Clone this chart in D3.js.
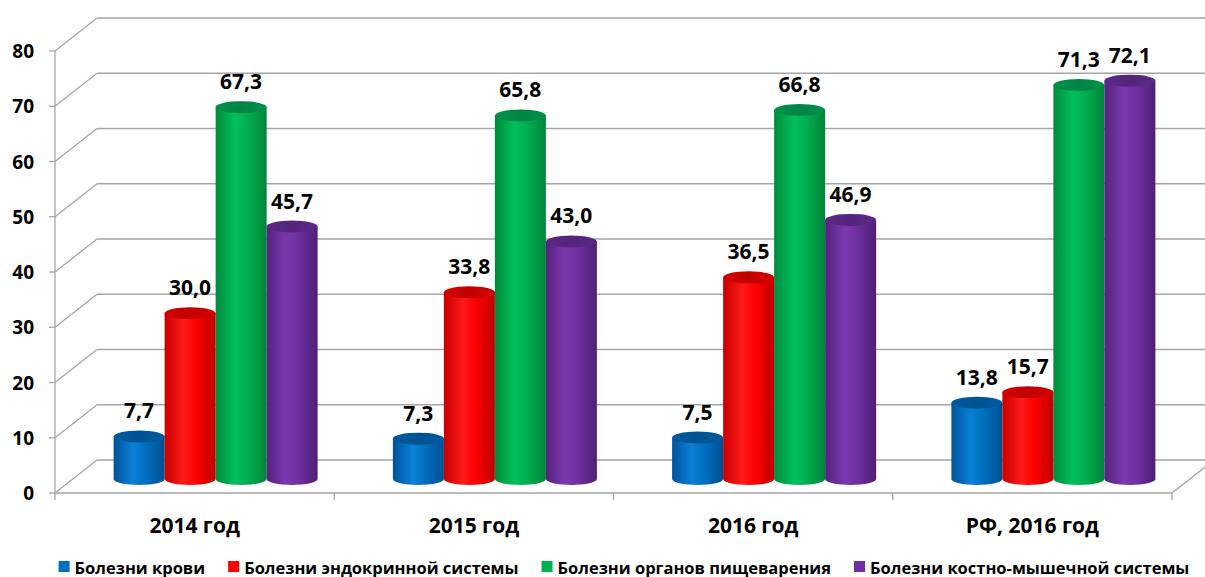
<!DOCTYPE html>
<html>
<head>
<meta charset="utf-8">
<script src="https://cdn.jsdelivr.net/npm/d3@7"></script>
<style>
  html, body { margin: 0; padding: 0; background: #fff; }
  svg { display: block; }
  text { font-family: "Open Sans", "Noto Sans", sans-serif; font-weight: 700; fill: #000; }
</style>
</head>
<body>
<svg id="chart" width="1205" height="577"></svg>
<script>
// Categories, series and values
const categories = ["2014 год", "2015 год", "2016 год", "РФ, 2016 год"];
const seriesNames = [
  "Болезни крови",
  "Болезни эндокринной системы",
  "Болезни органов пищеварения",
  "Болезни костно-мышечной системы"
];
const bloodValues      = [7.7, 7.3, 7.5, 13.8];
const endocrineValues  = [30.0, 33.8, 36.5, 15.7];
const digestiveValues  = [67.3, 65.8, 66.8, 71.3];
const muscularValues   = [45.7, 43.0, 46.9, 72.1];
const yTicks = [0, 10, 20, 30, 40, 50, 60, 70, 80];

const seriesValues = [bloodValues, endocrineValues, digestiveValues, muscularValues];

// Colour sets per series: base (legend), cylinder edge/middle, top cap
const palettes = [
  { base: "#0070C0", edge: "#00539a", mid: "#0a80d6", right: "#004f90", cap: "#005a9e" },
  { base: "#FF0000", edge: "#c80000", mid: "#ff1a1a", right: "#bf0000", cap: "#d40000" },
  { base: "#00B050", edge: "#008a3c", mid: "#00c05c", right: "#00843a", cap: "#00904a" },
  { base: "#7030A0", edge: "#55237e", mid: "#7a38ae", right: "#4e1f76", cap: "#5c2888" }
];

const svg = d3.select("#chart");
const W = 1205;

// Plot box: front floor edge and depth offset of the 3D back wall
const x0 = 55, x1 = 1172;
const depthX = 42, depthY = -33;

const y = d3.scaleLinear().domain([0, 80]).range([493, 51]);
const x = d3.scaleBand().domain(categories).range([x0, x1]).paddingInner(0).paddingOuter(0);
const barW = 51;
const xSub = d3.scaleBand().domain(d3.range(seriesNames.length)).range([0, barW * 4]).paddingInner(0);

// Bars stand half-way into the depth of the floor
const barDX = 21, barDY = -14;
const yBar = v => y(v) + barDY;

const grid = svg.append("g").attr("stroke", "#a6a6a6").attr("stroke-width", 1.3).attr("fill", "none");

// Back wall gridlines and left wall diagonals
yTicks.forEach(t => {
  grid.append("line")
    .attr("x1", x0 + depthX).attr("y1", y(t) + depthY)
    .attr("x2", W + 20).attr("y2", y(t) + depthY);
  grid.append("line")
    .attr("x1", x0).attr("y1", y(t))
    .attr("x2", x0 + depthX).attr("y2", y(t) + depthY);
  grid.append("line")
    .attr("x1", x0 - 6).attr("y1", y(t))
    .attr("x2", x0).attr("y2", y(t));
});

// Front vertical axis
grid.append("line").attr("x1", x0).attr("y1", y(0)).attr("x2", x0).attr("y2", y(80));
// Front floor edge and right floor edge
grid.append("line").attr("x1", x0).attr("y1", y(0)).attr("x2", x1).attr("y2", y(0));
grid.append("line").attr("x1", x1).attr("y1", y(0)).attr("x2", x1 + depthX).attr("y2", y(0) + depthY);
// Category boundary ticks along the floor edge
d3.range(categories.length + 1).forEach(i => {
  const xx = x0 + x.bandwidth() * i;
  grid.append("line").attr("x1", xx).attr("y1", y(0)).attr("x2", xx).attr("y2", y(0) + 7);
});

// Y tick labels
svg.append("g").selectAll("text").data(yTicks).join("text")
  .attr("x", 34).attr("y", d => y(d))
  .attr("text-anchor", "end").attr("dominant-baseline", "central")
  .style("font-size", "19px")
  .text(d => d);

// Category labels
svg.append("g").selectAll("text").data(categories).join("text")
  .attr("x", d => x(d) + x.bandwidth() / 2)
  .attr("y", 533)
  .attr("text-anchor", "middle")
  .style("font-size", "21px")
  .text(d => d);

// Gradients for cylinder shading
const defs = svg.append("defs");
palettes.forEach((p, i) => {
  const g = defs.append("linearGradient").attr("id", "cyl" + i)
    .attr("x1", "0%").attr("x2", "100%").attr("y1", "0%").attr("y2", "0%");
  g.append("stop").attr("offset", "0%").attr("stop-color", p.edge);
  g.append("stop").attr("offset", "38%").attr("stop-color", p.mid);
  g.append("stop").attr("offset", "62%").attr("stop-color", p.base);
  g.append("stop").attr("offset", "100%").attr("stop-color", p.right);
  const c = defs.append("linearGradient").attr("id", "cap" + i)
    .attr("x1", "0%").attr("x2", "100%").attr("y1", "0%").attr("y2", "0%");
  c.append("stop").attr("offset", "0%").attr("stop-color", p.cap);
  c.append("stop").attr("offset", "50%").attr("stop-color", d3.color(p.cap).darker(0.25));
  c.append("stop").attr("offset", "100%").attr("stop-color", p.cap);
});

// Cylinders, drawn category by category, left to right
const rx = barW / 2, ry = 6;
const bars = svg.append("g");
categories.forEach((cat, ci) => {
  const left0 = x(cat) + x.bandwidth() / 2 - barW * 2 + barDX;
  seriesValues.forEach((vals, si) => {
    const v = vals[ci];
    const xl = left0 + xSub(si), xr = xl + barW, cx = xl + rx;
    const yt = yBar(v), yb = yBar(0);
    bars.append("path")
      .attr("d", `M${xl},${yt} L${xl},${yb} A${rx},${ry} 0 0 0 ${xr},${yb} L${xr},${yt} Z`)
      .attr("fill", `url(#cyl${si})`);
    bars.append("ellipse")
      .attr("cx", cx).attr("cy", yt).attr("rx", rx).attr("ry", ry)
      .attr("fill", `url(#cap${si})`);
  });
});

// Value labels above each cylinder
const fmt = v => v.toFixed(1).replace(".", ",");
const labels = svg.append("g");
categories.forEach((cat, ci) => {
  const left0 = x(cat) + x.bandwidth() / 2 - barW * 2 + barDX;
  seriesValues.forEach((vals, si) => {
    const v = vals[ci];
    labels.append("text")
      .attr("x", left0 + xSub(si) + rx)
      .attr("y", yBar(v) - 18)
      .attr("text-anchor", "middle")
      .style("font-size", "21px")
      .text(fmt(v));
  });
});

// Legend, centred under the plot
const legend = svg.append("g").attr("transform", "translate(0,567)");
const items = legend.selectAll("g").data(seriesNames).join("g");
items.append("rect").attr("width", 11).attr("height", 11).attr("y", -6)
  .attr("fill", (d, i) => palettes[i].base);
items.append("text").attr("x", 16).attr("dominant-baseline", "central")
  .style("font-size", "16.5px").text(d => d);
let widths = [];
items.each(function () { widths.push(this.getBBox().width); });
const gap = 23;
const total = d3.sum(widths) + gap * (widths.length - 1);
let cursor = 624 - total / 2;
items.attr("transform", (d, i) => {
  const t = `translate(${cursor},0)`;
  cursor += widths[i] + gap;
  return t;
});
</script>
</body>
</html>
